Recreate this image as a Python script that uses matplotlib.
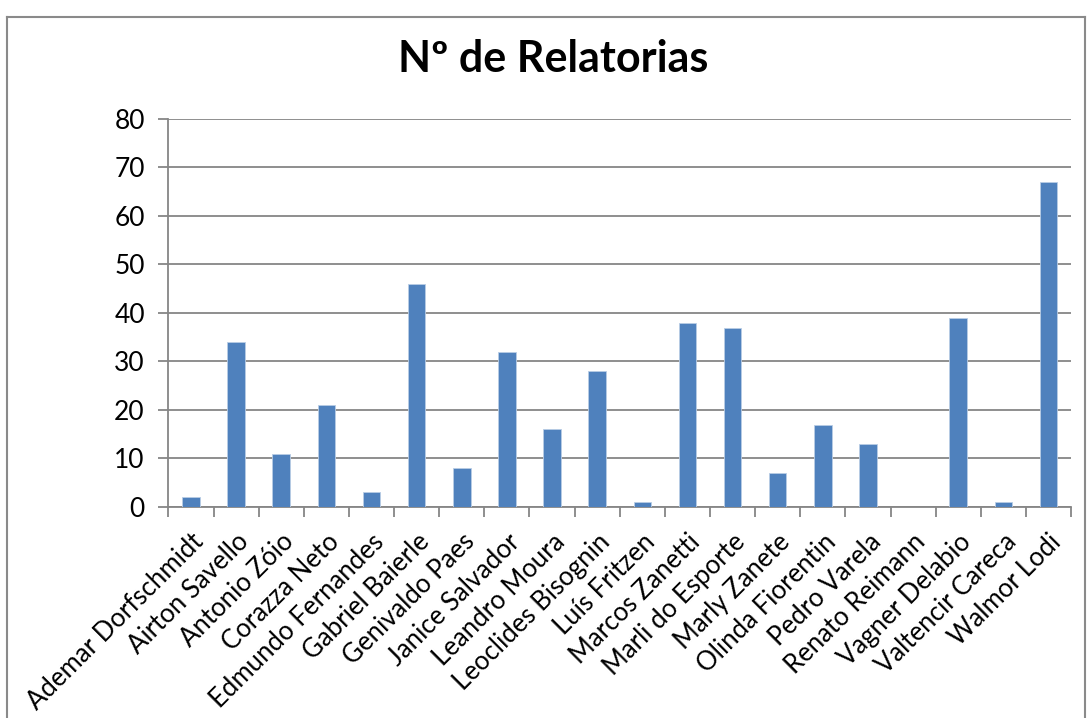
import matplotlib
matplotlib.use("Agg")
import matplotlib.pyplot as plt
from matplotlib.lines import Line2D
import numpy as np

names = ["Ademar Dorfschmidt", "Airton Savello", "Antonio Zóio", "Corazza Neto",
         "Edmundo Fernandes", "Gabriel Baierle", "Genivaldo Paes", "Janice Salvador",
         "Leandro Moura", "Leoclides Bisognin", "Luís Fritzen", "Marcos Zanetti",
         "Marli do Esporte", "Marly Zanete", "Olinda Fiorentin", "Pedro Varela",
         "Renato Reimann", "Vagner Delabio", "Valtencir Careca", "Walmor Lodi"]
values = [2, 34, 11, 21, 3, 46, 8, 32, 16, 28, 1, 38, 37, 7, 17, 13, 0, 39, 1, 67]
title = "Nº de Relatorias"
yticks = [0, 10, 20, 30, 40, 50, 60, 70, 80]

plt.rcParams['font.family'] = ['Lato', 'DejaVu Sans']

fig = plt.figure(figsize=(10.89, 7.18), dpi=100)
ax = fig.add_axes([0.1547, 0.2939, 0.9835 - 0.1547, 0.8343 - 0.2939])

gray = "#868686"
x = np.arange(len(names))
ax.bar(x, values, width=0.39, color="#4F81BD", edgecolor="#B9CDE5", linewidth=0.6, zorder=3)

ax.set_xlim(-0.5, len(names) - 0.5)
ax.set_ylim(0, 80)
ax.set_yticks(yticks)
ax.set_yticklabels([str(v) for v in yticks], fontsize=19)
ax.yaxis.grid(True, color=gray, linewidth=1.3, zorder=0)
ax.tick_params(axis='y', direction='out', length=7, width=1.3, color=gray, pad=10)

ax.set_xticks(x)
ax.set_xticklabels(names, rotation=45, ha='right', rotation_mode='anchor', fontsize=18.5)
ax.tick_params(axis='x', length=0, pad=16)
ax.set_xticks(np.arange(-0.5, len(names)), minor=True)
ax.tick_params(axis='x', which='minor', direction='out', length=7, width=1.3, color=gray)

for s in ['top', 'right']:
    ax.spines[s].set_visible(False)
for s in ['left', 'bottom']:
    ax.spines[s].set_color(gray)
    ax.spines[s].set_linewidth(1.3)

fig.text(0.508, 0.918, title, ha='center', va='center', fontsize=31, fontweight='bold')

# outer chart frame
fx0, fx1 = 7 / 1089, 1085 / 1089
fy1 = 1 - 17 / 718
fig.add_artist(Line2D([fx0, fx1], [fy1, fy1], transform=fig.transFigure, color="#8a8a8a", lw=1.5))
fig.add_artist(Line2D([fx0, fx0], [0, fy1], transform=fig.transFigure, color="#8a8a8a", lw=1.5))
fig.add_artist(Line2D([fx1, fx1], [0, fy1], transform=fig.transFigure, color="#8a8a8a", lw=1.5))

fig.savefig("out.png", dpi=100)
